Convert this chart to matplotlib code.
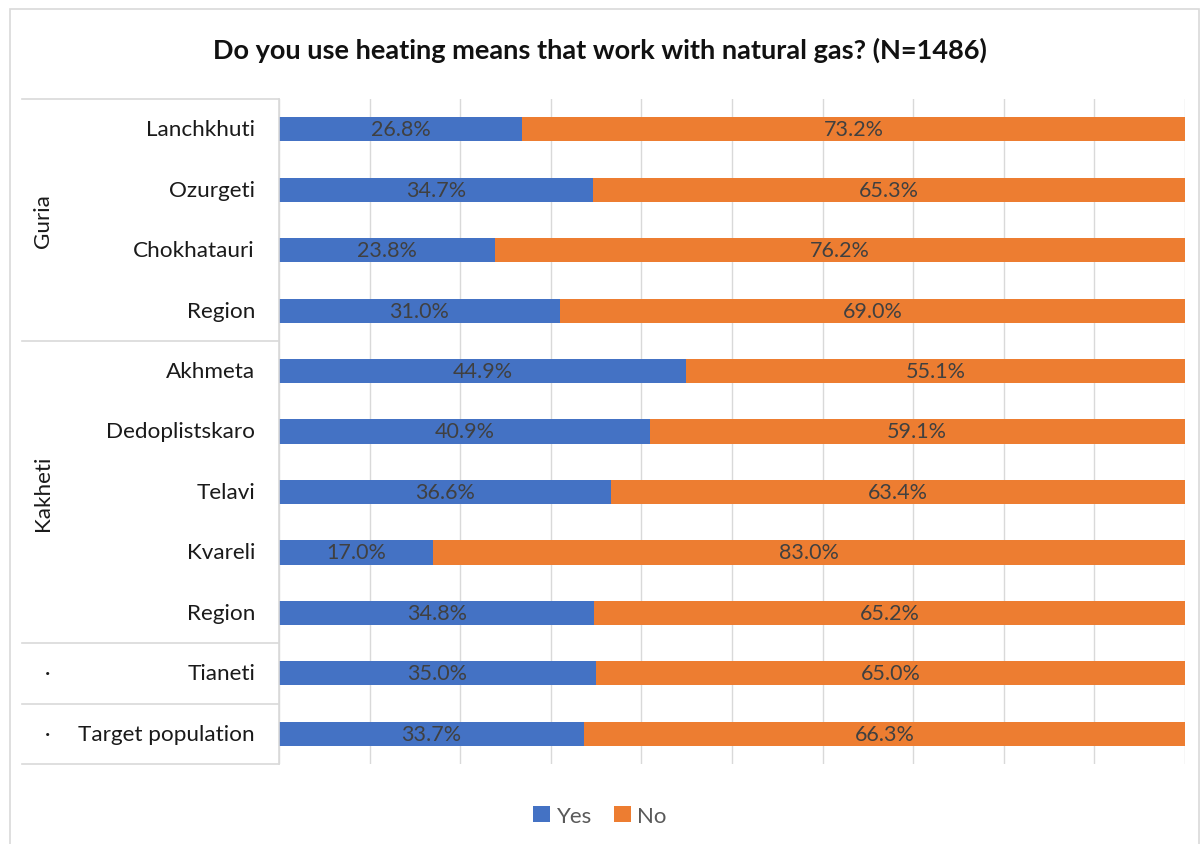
import matplotlib
matplotlib.use("Agg")
import matplotlib.pyplot as plt
from matplotlib.patches import Rectangle
import matplotlib.transforms as mtransforms
import numpy as np

plt.rcParams["font.family"] = ["Lato", "DejaVu Sans"]

# Datos (de arriba hacia abajo)
categorias = ["Lanchkhuti", "Ozurgeti", "Chokhatauri", "Region",
              "Akhmeta", "Dedoplistskaro", "Telavi", "Kvareli", "Region",
              "Tianeti", "Target population"]
si = [26.8, 34.7, 23.8, 31.0, 44.9, 40.9, 36.6, 17.0, 34.8, 35.0, 33.7]
no = [73.2, 65.3, 76.2, 69.0, 55.1, 59.1, 63.4, 83.0, 65.2, 65.0, 66.3]
grupos = [("Guria", 0, 3), ("Kakheti", 4, 8), ("·", 9, 9), ("·", 10, 10)]

AZUL = "#4472C4"
NARANJA = "#ED7D31"
GRIS = "#D9D9D9"

fig = plt.figure(figsize=(12, 8.45), dpi=100)
ax = fig.add_axes([279 / 1200, 1 - 765 / 845, 906 / 1200, 665 / 845])

# Borde del gráfico
fig.patches.append(Rectangle((10 / 1200, -0.01), 1189 / 1200, 1 - 10 / 845 + 0.01,
                             transform=fig.transFigure, fill=False,
                             edgecolor=GRIS, linewidth=1.2))

y = np.arange(len(categorias))
ax.barh(y, si, height=0.4, color=AZUL, label="Yes")
ax.barh(y, no, left=si, height=0.4, color=NARANJA, label="No")

for i in range(len(categorias)):
    ax.text(si[i] / 2, y[i], f"{si[i]:.1f}%", ha="center", va="center",
            fontsize=15.5, color="#404040")
    ax.text(si[i] + no[i] / 2, y[i], f"{no[i]:.1f}%", ha="center", va="center",
            fontsize=15.5, color="#404040")

ax.set_xlim(0, 100)
ax.set_ylim(len(categorias) - 0.5, -0.5)
ax.set_xticks(np.arange(0, 101, 10))
ax.set_xticklabels([])
ax.tick_params(length=0)
ax.set_yticks([])
ax.grid(axis="x", color=GRIS, linewidth=1)
ax.set_axisbelow(True)
for lado in ["top", "right", "bottom"]:
    ax.spines[lado].set_visible(False)
ax.spines["left"].set_color(GRIS)
ax.spines["left"].set_linewidth(1.2)

# Ejes jerárquicos a la izquierda
trans = mtransforms.blended_transform_factory(ax.transAxes, ax.transData)
x_ini = (22 - 279) / 906
for i, cat in enumerate(categorias):
    ax.text((255 - 279) / 906, i, cat, transform=trans, ha="right", va="center",
            fontsize=16.2, color="#1a1a1a")

limites = [-0.5] + [g[2] + 0.5 for g in grupos]
for b in limites:
    ax.plot([x_ini, 0], [b, b], transform=trans, color=GRIS, linewidth=1.2,
            clip_on=False)

for nombre, a, b in grupos:
    centro = (a + b) / 2
    if nombre == "·":
        ax.text((48 - 279) / 906, centro, nombre, transform=trans, ha="center",
                va="center", fontsize=15, color="#1a1a1a")
    else:
        ax.text((43 - 279) / 906, centro, nombre, transform=trans, ha="center",
                va="center", fontsize=16.2, rotation=90, color="#1a1a1a")

fig.suptitle("Do you use heating means that work with natural gas? (N=1486)",
             y=1 - 50 / 845, va="center", fontsize=19.5, fontweight="bold",
             color="#111111")

fig.legend(loc="center", bbox_to_anchor=(0.5, 1 - 817 / 845), ncol=2,
           frameon=False, fontsize=16, handlelength=0.75, handleheight=0.75,
           handletextpad=0.3, columnspacing=1.0, labelcolor="#595959")

fig.savefig("out.png", dpi=100)
